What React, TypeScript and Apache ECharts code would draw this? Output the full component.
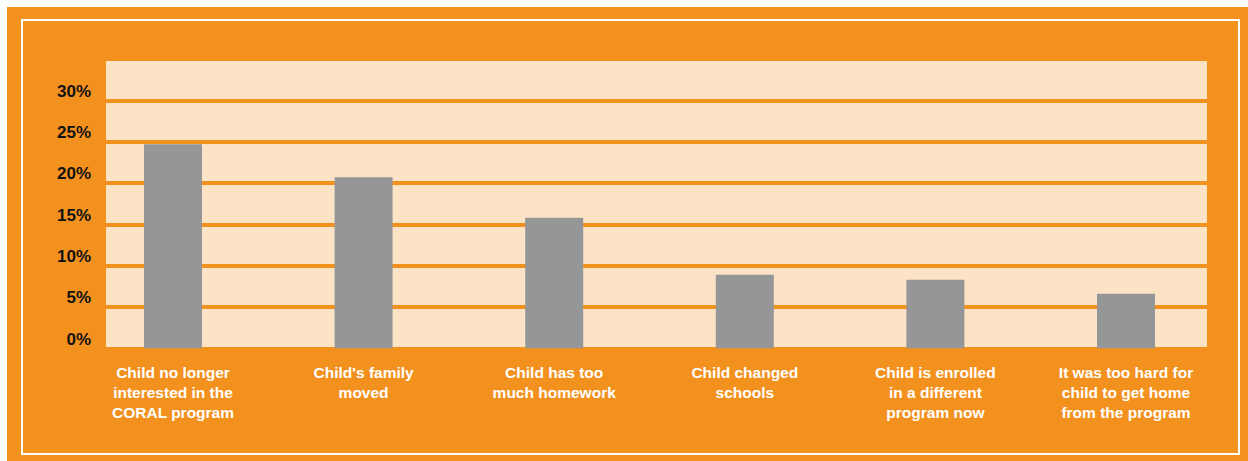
import React, { useEffect, useRef } from "react";
import * as echarts from "echarts";

const categories = [
  "Child no longer\ninterested in the\nCORAL program",
  "Child's family\nmoved",
  "Child has too\nmuch homework",
  "Child changed\nschools",
  "Child is enrolled\nin a different\nprogram now",
  "It was too hard for\nchild to get home\nfrom the program",
];
const values = [24.7, 20.7, 15.8, 8.9, 8.3, 6.6];
const yTicks = [0, 5, 10, 15, 20, 25, 30, 35];

const ORANGE = "#F3911F";
const PEACH = "#FCE3C5";
const GRAY = "#959698";

export default function App() {
  const ref = useRef<HTMLDivElement>(null);
  useEffect(() => {
    if (!ref.current) return;
    const chart = echarts.init(ref.current, undefined, { renderer: "svg" });
    chart.setOption({
      animation: false,
      backgroundColor: ORANGE,
      graphic: [
        {
          type: "rect",
          silent: true,
          shape: { x: 15, y: 13, width: 1217, height: 434 },
          style: { fill: "none", stroke: "#ffffff", lineWidth: 2 },
          z: 100,
        },
      ],
      grid: [
        {
          left: 99,
          right: 41,
          top: 52,
          bottom: 112.7,
          show: true,
          backgroundColor: PEACH,
          borderWidth: 0,
        },
        {
          left: 70.7,
          right: 26.7,
          top: 52,
          bottom: 112.7,
        },
      ],
      xAxis: [
        { gridIndex: 0, type: "value", show: false, min: 0, max: 1 },
        {
          gridIndex: 1,
          type: "category",
          data: categories,
          axisLine: { show: false },
          axisTick: { show: false },
          axisLabel: {
            interval: 0,
            color: "#ffffff",
            fontFamily: "Liberation Sans",
            fontWeight: "bold",
            fontSize: 15.5,
            lineHeight: 20,
            margin: 14,
          },
        },
      ],
      yAxis: [
        {
          gridIndex: 0,
          type: "value",
          min: yTicks[0],
          max: yTicks[yTicks.length - 1],
          interval: 5,
          axisLine: { show: false },
          axisTick: { show: false },
          splitLine: { show: true, lineStyle: { color: ORANGE, width: 4 } },
          axisLabel: {
            margin: 15,
            color: "#111111",
            fontFamily: "Liberation Sans",
            fontWeight: "bold",
            fontSize: 17,
            verticalAlign: "bottom",
            lineHeight: 18,
            formatter: (v: number) => (v >= 35 ? "" : v + "%"),
          },
        },
        {
          gridIndex: 1,
          type: "value",
          min: 0,
          max: 35,
          show: false,
          splitLine: { show: false },
        },
      ],
      series: [
        {
          type: "bar",
          xAxisIndex: 1,
          yAxisIndex: 1,
          data: values,
          barWidth: 58,
          itemStyle: { color: GRAY },
        },
      ],
    });
    return () => chart.dispose();
  }, []);
  return (
    <div
      style={{
        position: "fixed",
        left: 0,
        top: 0,
        width: 1248,
        height: 461,
        background: "#ffffff",
      }}
    >
      <div
        ref={ref}
        style={{ position: "absolute", left: 7, top: 7, width: 1241, height: 454 }}
      />
    </div>
  );
}
